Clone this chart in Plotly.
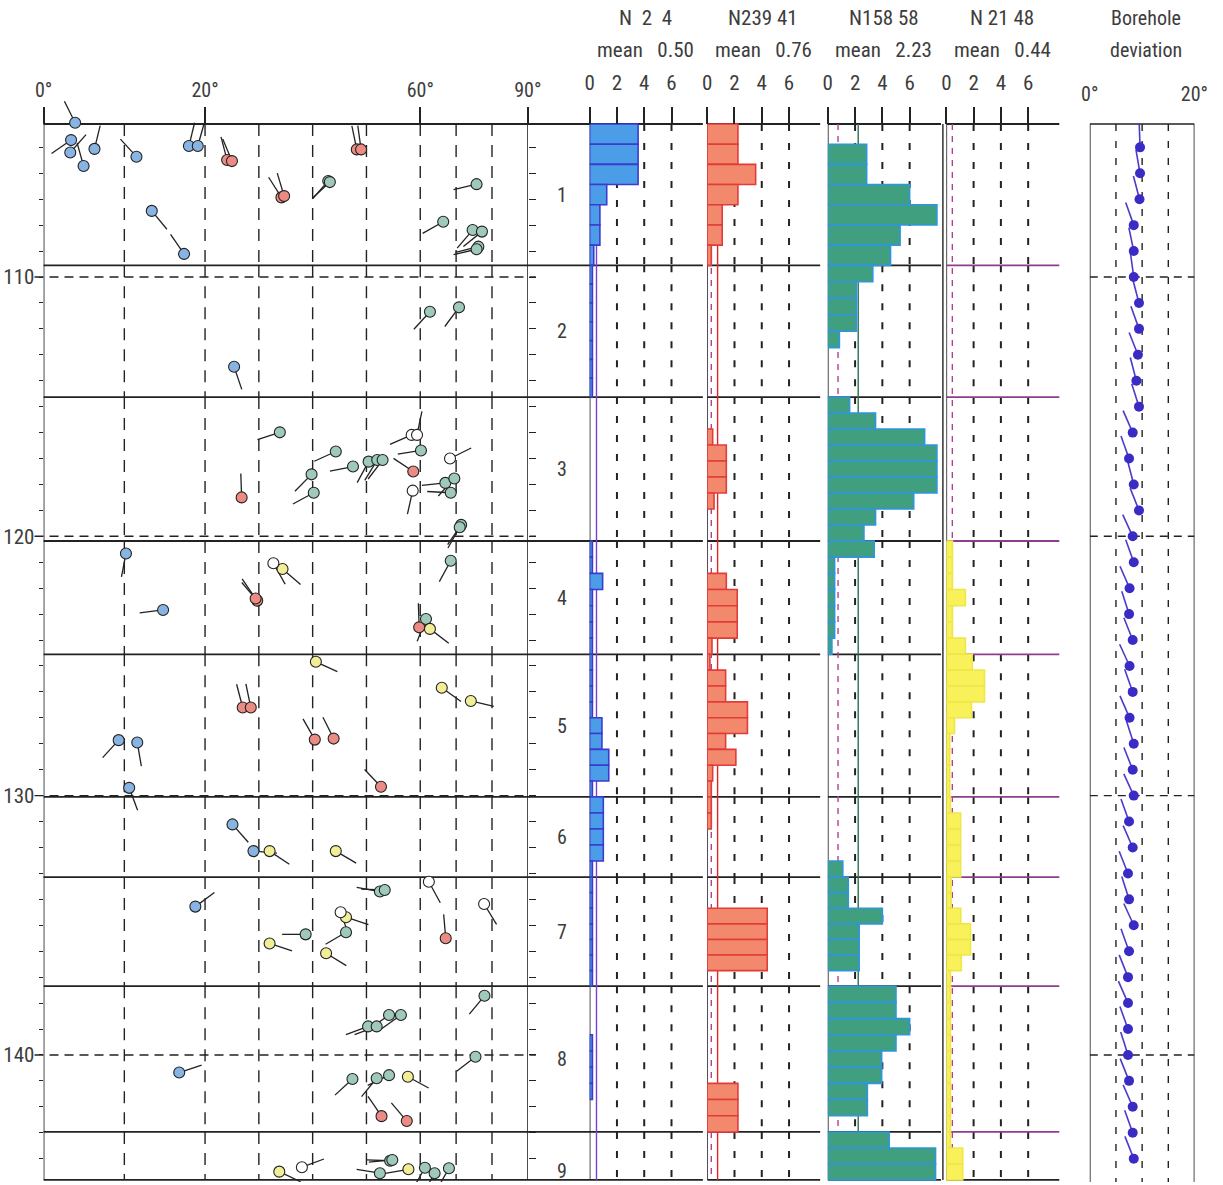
import math
import plotly.graph_objects as go

W, H = 1223, 1185
FONT = "Liberation Sans Narrow, Roboto Condensed, Liberation Sans, Arial, sans-serif"
INK = "#222222"
TEXT = "#3d3d3d"

# ---------------- depth frame ----------------
DEPTH_TOP, DEPTH_BOT = 103.02, 144.90      # visible depth window (m)
PLOT_TOP_PX, PLOT_BOT_PX = 96, 1182        # vertical extent of that window on the page
FRAME_TOP, FRAME_BOT = 104.10, 144.82      # top and bottom frame lines (m)
HEADER_PX = 124                            # page row of the frame top (tick axes sit here)

zone_tops = [104.10, 109.55, 114.63, 120.18, 124.55, 130.05, 133.14, 137.35, 142.97]
zone_names = ["1", "2", "3", "4", "5", "6", "7", "8", "9"]
depth_labels = [110, 120, 130, 140]
depth_ticks = list(range(105, 145))

# ---------------- dip axis (piecewise scale) ----------------
dip_knots = [0, 20, 60, 90]
scale_knots = [0, 3, 7, 9]
dip_ticks = [0, 20, 60, 90]
dip_grid = [10, 20, 30, 40, 50, 60, 70, 80]

# ---------------- tadpoles: depth (m), dip (deg), dip azimuth (deg), set ----------------
tad_depth = [
    104.05, 104.72, 105.20, 105.72, 105.06, 105.36, 104.95, 104.95, 105.49, 105.53,
    107.45, 109.11, 106.93, 106.88, 106.30, 106.34, 105.08, 105.08, 106.42, 107.87,
    108.19, 108.25, 108.83, 108.93,
    111.34, 111.17, 113.46,
    115.99, 118.50, 116.73, 117.61, 118.32, 117.31, 117.12, 117.06, 117.06, 116.09,
    116.09, 116.69, 117.50, 118.24, 117.00, 117.94, 117.77, 118.32, 119.56, 119.65,
    120.66, 120.94, 121.04, 121.26, 122.48, 122.40, 122.84, 123.51, 123.19, 123.57,
    124.84, 126.60, 126.60, 125.84, 126.35, 127.84, 127.80, 129.66, 127.86, 127.95, 129.70,
    131.11, 132.14, 132.14, 132.14,
    134.28, 133.70, 133.64, 133.32, 135.50, 134.18, 134.50, 134.69, 135.27, 135.35, 135.70, 136.08,
    137.72, 138.46, 138.46, 138.90, 138.90, 140.07, 140.68, 140.93, 140.90, 140.78, 140.84,
    142.36, 142.55,
    144.50, 144.33, 144.08, 144.05, 144.56, 144.41, 144.35, 144.56, 144.37,
]
tad_dip = [
    3.9, 3.4, 3.3, 4.95, 6.3, 11.5, 18.0, 19.1, 24.1, 25.0,
    13.4, 17.4, 34.2, 34.7, 42.9, 43.2, 48.2, 49.0, 75.7, 66.4,
    74.6, 77.2, 76.2, 75.7,
    62.7, 70.8, 25.4,
    33.9, 26.8, 44.3, 39.8, 40.2, 47.5, 50.4, 52.0, 53.0, 58.4,
    59.4, 60.2, 58.7, 58.6, 68.3, 67.0, 69.5, 68.5, 71.4, 71.0,
    10.2, 68.5, 32.7, 34.4, 29.7, 29.4, 14.8, 59.8, 61.6, 62.7,
    40.6, 27.0, 28.5, 66.0, 74.1, 40.4, 43.9, 52.7, 9.3, 11.6, 10.6,
    25.1, 29.0, 32.0, 44.3,
    18.8, 52.5, 53.4, 62.4, 67.1, 77.8, 45.2, 46.2, 46.2, 38.7, 32.0, 42.5,
    77.9, 54.2, 56.4, 50.3, 51.9, 75.4, 16.8, 47.4, 51.9, 54.2, 57.7,
    52.8, 57.5,
    33.8, 38.0, 54.4, 54.8, 52.5, 57.8, 61.3, 64.0, 68.0,
]
tad_azi = [
    333, 236, 42, 344, 14, 317, 14, 16, 345, 337,
    140, 325, 327, 343, 222, 228, 348, 352, 257, 241,
    221, 232, 256, 257,
    223, 217, 161,
    252, 358, 246, 225, 242, 259, 209, 212, 218, 247,
    12, 261, 303, 193, 64, 264, 223, 273, 215, 210,
    191, 209, 150, 130, 319, 325, 263, 358, 202, 127,
    114, 345, 348, 125, 103, 330, 333, 316, 223, 170, 159,
    138, 95, 123, 120,
    54, 280, 272, 151, 355, 148, 160, 108, 240, 270, 108, 121,
    220, 235, 235, 250, 250, 233, 72, 228, 220, 245, 118,
    325, 319,
    115, 70, 272, 265, 279, 260, 210, 210, 210,
]
tad_set = [
    "B", "B", "B", "B", "B", "B", "B", "B", "R", "R",
    "B", "B", "R", "R", "G", "G", "R", "R", "G", "G",
    "G", "G", "G", "G",
    "G", "G", "B",
    "G", "R", "G", "G", "G", "G", "G", "G", "G", "W",
    "W", "G", "R", "W", "W", "G", "G", "G", "G", "G",
    "B", "G", "W", "Y", "R", "R", "B", "R", "G", "Y",
    "Y", "R", "R", "Y", "Y", "R", "R", "R", "B", "B", "B",
    "B", "B", "Y", "Y",
    "B", "G", "G", "W", "R", "W", "W", "Y", "G", "G", "Y", "Y",
    "G", "G", "G", "G", "G", "G", "B", "G", "G", "G", "Y",
    "R", "R",
    "Y", "W", "G", "G", "G", "Y", "G", "G", "G",
]
set_colors = {"B": "#88b4e4", "R": "#eb8b83", "G": "#9ec9bb", "Y": "#f1ee97", "W": "#ffffff"}

# ---------------- fracture-density histograms (values per zone, equal bins) ----------------
hist_titles = ["N\u00a0\u00a02\u00a0\u00a04", "N239\u00a041", "N158\u00a058", "N\u00a021\u00a048"]
hist_means = [0.50, 0.76, 2.23, 0.44]
hist_ticks = [0, 2, 4, 6]

blue_counts = [
    [3.55, 3.55, 3.55, 1.25, 0.75, 0.75, 0.3],
    [0.2, 0.2, 0.2, 0.2, 0.2, 0.2, 0.2],
    [0, 0, 0, 0, 0, 0, 0, 0, 0],
    [0.2, 0.2, 0.95, 0.2, 0.2, 0.2, 0.2],
    [0.2, 0.2, 0.2, 0.2, 0.9, 0.9, 1.4, 1.4, 0.2],
    [1.0, 1.0, 1.0, 1.0, 0.2],
    [0.2, 0.2, 0.2, 0.2, 0.2, 0.2, 0.2],
    [0, 0, 0, 0.2, 0.2, 0.2, 0.2, 0, 0],
    [0, 0, 0],
]
red_counts = [
    [2.25, 2.25, 3.55, 2.25, 1.1, 1.1, 0.3],
    [0, 0, 0, 0, 0, 0, 0],
    [0, 0, 0.4, 1.4, 1.4, 1.4, 0.5, 0, 0],
    [0, 0, 1.4, 2.2, 2.2, 2.2, 0.35],
    [0.2, 1.35, 1.35, 2.95, 2.95, 1.35, 2.1, 0.4, 0.3],
    [0.3, 0.3, 0, 0, 0],
    [0, 0, 4.4, 4.4, 4.4, 4.4, 0],
    [0, 0, 0, 0, 0, 0, 2.25, 2.25, 2.25],
    [0, 0, 0],
]
green_counts = [
    [0, 2.85, 2.85, 6.0, 8.0, 5.3, 4.6],
    [3.3, 2.1, 2.1, 2.1, 0.85, 0, 0, 0],
    [1.6, 3.5, 7.1, 8.0, 8.0, 8.0, 6.3, 3.5, 2.65],
    [3.4, 0.5, 0.5, 0.5, 0.5, 0.5, 0.3],
    [0, 0, 0, 0, 0, 0, 0, 0, 0],
    [0, 0, 0, 0, 1.1],
    [1.5, 1.5, 4.0, 2.3, 2.3, 2.3, 0],
    [5.0, 5.0, 6.0, 5.0, 3.95, 3.95, 2.9, 2.9, 0],
    [4.5, 7.9, 7.9],
]
yellow_counts = [
    [0, 0, 0, 0, 0, 0, 0],
    [0, 0, 0, 0, 0, 0, 0],
    [0, 0, 0, 0, 0, 0, 0, 0, 0],
    [0.45, 0.45, 0.45, 1.4, 0.45, 0.45, 1.4],
    [1.9, 2.8, 2.8, 1.85, 0.6, 0.25, 0.25, 0.25, 0.25],
    [0.3, 1.05, 1.05, 1.05, 1.05],
    [0.35, 0.35, 1.06, 1.77, 1.77, 1.1, 0.3],
    [0.3, 0.3, 0.3, 0.3, 0.3, 0.3, 0.3, 0.3, 0.3],
    [0.3, 1.2, 1.2],
]
hist_lower_marks = [None, 0.3, 0.75, None]

# ---------------- borehole deviation, one station per metre ----------------
dev_depth = list(range(105, 145))
dev_angle = [
    9.6, 9.6, 9.5, 8.4, 8.4, 8.4, 9.4, 9.4, 9.2, 8.9,
    9.4, 8.2, 7.5, 8.4, 9.4, 8.2, 8.4, 7.6, 7.5, 8.2,
    7.6, 8.2, 7.6, 8.4, 8.2, 8.4, 7.5, 8.2, 7.3, 7.5,
    8.4, 7.5, 7.3, 7.3, 7.3, 7.3, 7.5, 8.2, 8.2, 8.4,
]
dev_azi = [
    358, 350, 345, 340, 348, 352, 345, 340, 338, 345,
    342, 336, 340, 345, 338, 335, 340, 336, 342, 338,
    335, 340, 336, 342, 338, 335, 340, 336, 338, 342,
    335, 340, 338, 336, 340, 342, 338, 336, 340, 338,
]
dev_ticks = [0, 20]
dev_grid = [5, 10, 15]

# ---------------- page geometry ----------------
TAD_L, TAD_R = 35.3, 528.8
HIST_ZERO = [591.8, 711.6, 834.5, 955.3]
HIST_PX_PER_UNIT = 13.9
HIST_SPAN = 8.3
DEV_L, DEV_R = 1101.5, 1208.2
ZONE_LABEL_X = 563.4

px_per_m = (PLOT_BOT_PX - PLOT_TOP_PX) / (DEPTH_BOT - DEPTH_TOP)
px_per_unit = (TAD_R - TAD_L) / scale_knots[-1]
dev_px_per_deg = (DEV_R - DEV_L) / 20.0
TAIL_PX = 24.0
DEV_TAIL_PX = 24.0


def dip_to_unit(d):
    for i in range(len(dip_knots) - 1):
        if d <= dip_knots[i + 1] or i == len(dip_knots) - 2:
            f = (d - dip_knots[i]) / (dip_knots[i + 1] - dip_knots[i])
            return scale_knots[i] + f * (scale_knots[i + 1] - scale_knots[i])


def px(x):
    return x / W


def py(y):
    return 1 - y / H


zone_bottoms = zone_tops[1:] + [FRAME_BOT]

fig = go.Figure()

# ---- tadpole tails, then heads ----
tx, ty = [], []
for d, dip, az in zip(tad_depth, tad_dip, tad_azi):
    u = dip_to_unit(dip)
    a = math.radians(az)
    tx += [u, u + TAIL_PX * math.sin(a) / px_per_unit, None]
    ty += [d, d - TAIL_PX * math.cos(a) / px_per_m, None]
fig.add_trace(go.Scatter(x=tx, y=ty, mode="lines", line=dict(color=INK, width=1.3),
                         xaxis="x", yaxis="y", hoverinfo="skip", showlegend=False))
for key in ["B", "R", "G", "Y", "W"]:
    idx = [i for i, s in enumerate(tad_set) if s == key]
    fig.add_trace(go.Scatter(
        x=[dip_to_unit(tad_dip[i]) for i in idx], y=[tad_depth[i] for i in idx],
        mode="markers", xaxis="x", yaxis="y", showlegend=False,
        marker=dict(size=11, color=set_colors[key], line=dict(color=INK, width=1.1)),
    ))
# carrier for the right-hand depth ticks
fig.add_trace(go.Scatter(x=[None], y=[None], xaxis="x", yaxis="y2", showlegend=False))

# ---- histograms ----
hist_series = [blue_counts, red_counts, green_counts, yellow_counts]
hist_fill = ["#4b9de8", "#f2896c", "#3f9f7e", "#f8f15a"]
hist_edge = ["#3b3bd0", "#e23b3b", "#2f95e0", "#efe64a"]
for k, series in enumerate(hist_series):
    xs, ys, ws = [], [], []
    for z, vals in enumerate(series):
        h = (zone_bottoms[z] - zone_tops[z]) / len(vals)
        for i, v in enumerate(vals):
            if v > 0:
                xs.append(v)
                ys.append(zone_tops[z] + (i + 0.5) * h)
                ws.append(h)
    fig.add_trace(go.Bar(
        x=xs, y=ys, width=ws, orientation="h", base=0,
        xaxis="x%d" % (k + 2), yaxis="y", showlegend=False,
        marker=dict(color=hist_fill[k], line=dict(color=hist_edge[k], width=1.6)),
    ))

# ---- borehole deviation ----
bx, by = [], []
for d, ang, az in zip(dev_depth, dev_angle, dev_azi):
    a = math.radians(az)
    bx += [ang, ang + DEV_TAIL_PX * math.sin(a) / dev_px_per_deg, None]
    by += [d, d - DEV_TAIL_PX * math.cos(a) / px_per_m, None]
fig.add_trace(go.Scatter(x=bx, y=by, mode="lines", line=dict(color="#4a3cc8", width=1.6),
                         xaxis="x6", yaxis="y", hoverinfo="skip", showlegend=False))
fig.add_trace(go.Scatter(x=dev_angle, y=dev_depth, mode="markers", xaxis="x6", yaxis="y",
                         marker=dict(size=10, color="#3a2bc4"), showlegend=False))

# ---------------- frame lines ----------------
shapes = []


def line(xref, x0, x1, y0, y1, color=INK, width=1.8, dash="solid"):
    shapes.append(dict(type="line", xref=xref, yref="y", x0=x0, x1=x1, y0=y0, y1=y1,
                       line=dict(color=color, width=width, dash=dash), layer="below"))


# tadpole track
line("x", 0, 0, FRAME_TOP, FRAME_BOT, width=1.6)
line("x", scale_knots[-1], scale_knots[-1], FRAME_TOP, FRAME_BOT, width=1.6)
for z in range(len(zone_tops)):
    for g in dip_grid:
        u = dip_to_unit(g)
        line("x", u, u, zone_tops[z], zone_bottoms[z], width=1.4, dash="12px,9px")
for d in depth_labels:
    line("paper", px(26), px(537), d, d, width=1.4, dash="9px,6px")

# zone boundaries: tadpole track through the first histogram
for d in zone_tops + [FRAME_BOT]:
    line("paper", px(TAD_L), px(HIST_ZERO[0] + HIST_SPAN * HIST_PX_PER_UNIT), d, d, width=1.8)

for k in range(4):
    xr = "x%d" % (k + 2)
    line(xr, 0, 0, FRAME_TOP, FRAME_BOT, width=1.6)
    for z in range(len(zone_tops)):
        for t in hist_ticks[1:]:
            line(xr, t, t, zone_tops[z], zone_bottoms[z], width=2.0, dash="7px,12px")
    if k > 0:
        for j, d in enumerate(zone_tops + [FRAME_BOT]):
            interior = 0 < j < len(zone_tops)
            col = "#8e3c8c" if (k == 3 and interior) else INK
            line(xr, 0, HIST_SPAN, d, d, color=col, width=1.8)
    # mean line
    mcol = ["#7b3fd6", "#e02424", "#2f6f52", "#b2408f"][k]
    mdash = "solid" if k < 3 else "6px,6px"
    line(xr, hist_means[k], hist_means[k], FRAME_TOP, FRAME_BOT, color=mcol, width=1.4, dash=mdash)
    if hist_lower_marks[k] is not None:
        line(xr, hist_lower_marks[k], hist_lower_marks[k], FRAME_TOP, FRAME_BOT,
             color="#b2408f", width=1.4, dash="6px,6px")
# double rule at the left of the last histogram
line("paper", px(HIST_ZERO[3] - 3.5), px(HIST_ZERO[3] - 3.5), FRAME_TOP, FRAME_BOT, width=1.4)

# borehole deviation box
line("x6", 0, 20, FRAME_TOP, FRAME_TOP, width=1.6)
line("x6", 0, 0, FRAME_TOP, DEPTH_BOT, width=1.6)
line("x6", 20, 20, FRAME_TOP, DEPTH_BOT, width=1.6)
for g in dev_grid:
    line("x6", g, g, FRAME_TOP, DEPTH_BOT, width=1.4, dash="7px,10px")
for d in depth_labels:
    line("x6", 0, 20, d, d, width=1.4, dash="8px,6px")

# ---------------- text ----------------
annotations = []


def label(x, y, text, size=18, yref="paper"):
    annotations.append(dict(x=x, y=y, xref="paper", yref=yref, text=text, showarrow=False,
                            xanchor="center", yanchor="middle",
                            font=dict(family=FONT, size=size, color=TEXT)))


for z, name in enumerate(zone_names):
    bottom = zone_bottoms[z]
    ymid = (zone_tops[z] + bottom) / 2 if z < len(zone_names) - 1 else bottom - 0.35
    label(px(ZONE_LABEL_X), ymid, name, size=20, yref="y")

for k in range(4):
    cx = px(HIST_ZERO[k] + 4.1 * HIST_PX_PER_UNIT)
    label(cx, py(18), hist_titles[k], size=21)
    label(cx, py(50), "mean\u00a0\u00a0\u00a0%.2f" % hist_means[k], size=21)
label(px((DEV_L + DEV_R) / 2 + 4), py(18), "Borehole", size=20)
label(px((DEV_L + DEV_R) / 2 + 4), py(50), "deviation", size=20)

# ---------------- axes ----------------


def top_axis(x0px, x1px, rng, tickvals, ticktext=None, tickcolor=INK, size=21,
             ticklen=17, standoff=0):
    ax = dict(domain=[px(x0px), px(x1px)], range=rng, anchor="free", position=py(HEADER_PX),
              side="top", tickmode="array", tickvals=tickvals, ticks="outside", ticklen=ticklen,
              tickwidth=1.6, tickcolor=tickcolor, showline=False, showgrid=False,
              zeroline=False, tickfont=dict(family=FONT, size=size, color=TEXT),
              ticklabelstandoff=standoff, fixedrange=True)
    if ticktext is not None:
        ax["ticktext"] = ticktext
    return ax


layout_axes = {}
layout_axes["xaxis"] = top_axis(TAD_L, TAD_R, [0, scale_knots[-1]],
                                [dip_to_unit(d) for d in dip_ticks],
                                ["%d°" % d for d in dip_ticks], size=20, standoff=2)
for k in range(4):
    x0 = HIST_ZERO[k]
    layout_axes["xaxis%d" % (k + 2)] = top_axis(x0, x0 + HIST_SPAN * HIST_PX_PER_UNIT,
                                                [0, HIST_SPAN], hist_ticks, standoff=9)
layout_axes["xaxis6"] = top_axis(DEV_L, DEV_R, [0, 20], dev_ticks,
                                 ["%d°" % d for d in dev_ticks], tickcolor="rgba(0,0,0,0)",
                                 size=20, ticklen=15)

ydom = [py(PLOT_BOT_PX), py(PLOT_TOP_PX)]
layout_axes["yaxis"] = dict(
    domain=ydom, range=[DEPTH_BOT, DEPTH_TOP], anchor="x", side="left",
    tickmode="array", tickvals=depth_ticks,
    ticktext=[str(d) if d in depth_labels else "" for d in depth_ticks],
    ticks="outside", ticklen=4, tickwidth=1.3, tickcolor=INK,
    showline=False, showgrid=False, zeroline=False,
    tickfont=dict(family=FONT, size=21, color=TEXT), fixedrange=True,
)
layout_axes["yaxis2"] = dict(
    range=[DEPTH_BOT, DEPTH_TOP], overlaying="y", anchor="x", side="right",
    tickmode="array", tickvals=depth_ticks, showticklabels=False,
    ticks="outside", ticklen=7, tickwidth=1.3, tickcolor=INK,
    showline=False, showgrid=False, zeroline=False, fixedrange=True,
)

fig.update_layout(
    width=W, height=H, margin=dict(l=0, r=0, t=0, b=0), autosize=False,
    paper_bgcolor="white", plot_bgcolor="rgba(0,0,0,0)",
    barmode="overlay", showlegend=False,
    shapes=shapes, annotations=annotations,
    font=dict(family=FONT, color=TEXT),
    **layout_axes,
)

fig.write_html(
    "out.html",
    config={"responsive": False, "displayModeBar": False},
    post_script="document.body.style.margin='0';document.body.style.overflow='hidden';",
)
